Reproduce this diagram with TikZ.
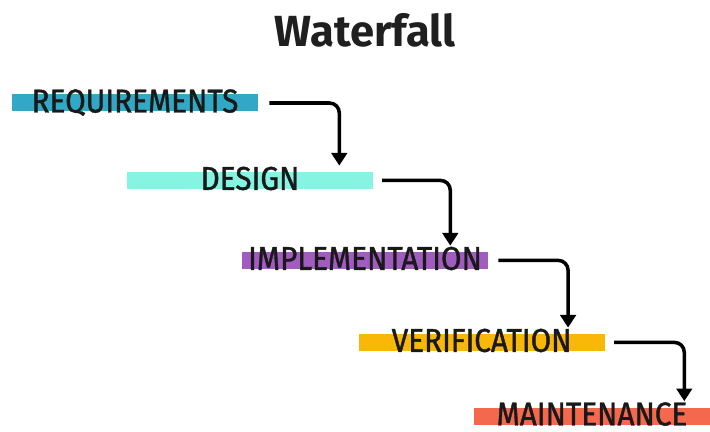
\documentclass[tikz,border=0pt]{standalone}
\usepackage{fontspec}
\setmainfont{Fira Sans}
\newfontfamily\stagefont[FakeStretch=0.9,FakeBold=1.2]{Fira Sans}
\usetikzlibrary{arrows.meta,positioning}

\definecolor{reqcol}{HTML}{31A9C6}
\definecolor{descol}{HTML}{86F3E3}
\definecolor{impcol}{HTML}{A25CC0}
\definecolor{vercol}{HTML}{F9B707}
\definecolor{maicol}{HTML}{F4694D}

\tikzset{
  stagebar/.style={draw=none,minimum width=6.15cm,minimum height=0.425cm,inner sep=0pt},
  stagelabel/.style={anchor=base,inner sep=0pt,text=black!90,font=\stagefont\fontsize{23.5}{24}\selectfont},
  flow/.style={-{Triangle[length=9pt,width=11pt]},line width=2.5pt,rounded corners=7pt}
}

\begin{document}
\begin{tikzpicture}[>=Latex]
\useasboundingbox (0,0) rectangle (17.75,-10.8);
\node[font=\bfseries\fontsize{31}{31}\selectfont,text=black!88] (title) at (9.125,-0.75) {Waterfall};
% stage bars
\node[stagebar,fill=reqcol] (req) at (3.375,-2.575) {};
\node[stagebar,fill=descol] (des) at (6.25,-4.51) {};
\node[stagebar,fill=impcol] (imp) at (9.125,-6.51) {};
\node[stagebar,fill=vercol] (ver) at (12.04,-8.56) {};
\node[stagebar,fill=maicol,minimum width=5.9cm] (mai) at (14.8,-10.4) {};
% labels
\node[stagelabel] (reqtxt) at ([yshift=-0.5pt]req.south) {REQUIREMENTS};
\node[stagelabel] (destxt) at ([yshift=-0.5pt]des.south) {DESIGN};
\node[stagelabel] (imptxt) at ([yshift=-0.5pt]imp.south) {IMPLEMENTATION};
\node[stagelabel] (vertxt) at ([yshift=-0.5pt]ver.south) {VERIFICATION};
\node[stagelabel] (maitxt) at ([yshift=-0.5pt]mai.south) {MAINTENANCE};
% arrows
\draw[flow] ([xshift=0.28cm]req.east) -| ([xshift=-0.85cm,yshift=0.15cm]des.north east);
\draw[flow] ([xshift=0.22cm]des.east) -| ([xshift=-0.95cm,yshift=0.15cm]imp.north east);
\draw[flow] ([xshift=0.25cm]imp.east) -| ([xshift=-0.92cm,yshift=0.15cm]ver.north east);
\draw[flow] ([xshift=0.23cm]ver.east) -| ([xshift=-0.65cm,yshift=0.15cm]mai.north east);
\end{tikzpicture}
\end{document}
